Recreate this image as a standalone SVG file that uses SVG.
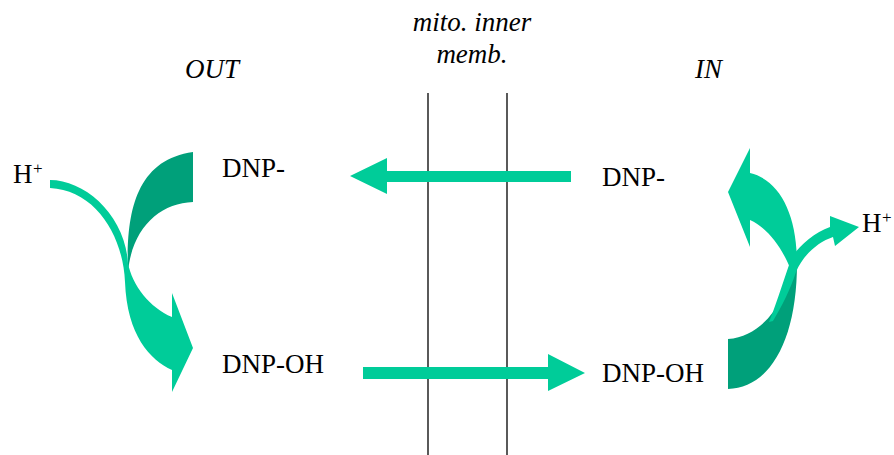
<svg xmlns="http://www.w3.org/2000/svg" width="894" height="455" viewBox="0 0 894 455">
  <rect width="894" height="455" fill="#fff"/>

  <!-- membrane boundaries -->
  <g id="membrane" stroke="#000" stroke-width="1.3" fill="none">
    <line x1="428" y1="93" x2="428" y2="455"/>
    <line x1="507" y1="93" x2="507" y2="455"/>
  </g>
  <g id="membrane-label">
    <text font-family="Liberation Serif" font-size="27" font-style="italic" x="472" y="31" text-anchor="middle">mito. inner</text>
    <text font-family="Liberation Serif" font-size="27" font-style="italic" x="472" y="63" text-anchor="middle">memb.</text>
  </g>

  <g id="side-out"><text font-family="Liberation Serif" font-size="27" font-style="italic" x="185" y="78">OUT</text></g>
  <g id="side-in"><text font-family="Liberation Serif" font-size="27" font-style="italic" x="695" y="78">IN</text></g>

  <g id="h-out"><text font-family="Liberation Serif" font-size="27" x="13" y="183">H</text><text font-family="Liberation Serif" font-size="17" x="33" y="174">+</text></g>
  <g id="h-in"><text font-family="Liberation Serif" font-size="27" x="862" y="232">H</text><text font-family="Liberation Serif" font-size="17" x="882" y="223">+</text></g>

  <g id="dnp-out"><text font-family="Liberation Serif" font-size="27" x="222" y="177">DNP-</text></g>
  <g id="dnpoh-out"><text font-family="Liberation Serif" font-size="27" x="222" y="373">DNP-OH</text></g>
  <g id="dnp-in"><text font-family="Liberation Serif" font-size="27" x="602" y="186">DNP-</text></g>
  <g id="dnpoh-in"><text font-family="Liberation Serif" font-size="27" x="602" y="382">DNP-OH</text></g>

  <g id="connectors" fill="#00CC99">
    <!-- DNP- moves out across the membrane -->
    <path d="M571,171 L387,171 L387,158 L350,176 L387,194 L387,182 L571,182 Z"/>
    <!-- DNP-OH moves in across the membrane -->
    <path d="M363,367 L548,367 L548,354 L585,373 L548,391 L548,379 L363,379 Z"/>

    <!-- OUT side: DNP- picks up H+ -->
    <path fill="#00A07A" d="M193,152 L193,202 C160,203 132,228 128,272 C126,212 136,160 193,152 Z"/>
    <path d="M50,180 C85,180 125,215 128,263 C132,285 150,308 172,317 L172,293 L193,348 L172,392 L172,370 C150,360 127,335 125,282 C123,235 95,190 50,188 Z"/>

    <!-- IN side: DNP-OH releases H+ -->
    <path fill="#00A07A" d="M728,339 L728,389 C770,388 797,340 797,263 C785,300 765,336 728,339 Z"/>
    <path d="M797,263 C797,215 780,180 750,173 L750,148 L728,192 L750,247 L750,220 C768,228 783,250 790,268 Z"/>
    <path d="M769,322 C778,300 785,275 792,257 C800,245 815,232 830,227 L830,216 L859,227 L835,246 L833,237 C818,242 803,255 796,272 C790,290 782,306 773,321 Z"/>
  </g>
</svg>
